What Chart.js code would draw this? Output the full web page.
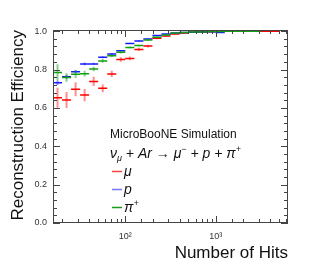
<!DOCTYPE html>
<html>
<head>
<meta charset="utf-8">
<script src="https://cdn.jsdelivr.net/npm/chart.js@4/dist/chart.umd.min.js"></script>
<style>
  html, body { margin: 0; padding: 0; background: #fff; }
</style>
</head>
<body>
<canvas id="eff_chart" width="313" height="272"></canvas>
<script>
// bin edges in number of hits (log-spaced, 0.1 decade)
const binEdges = [15.85, 19.95, 25.12, 31.62, 39.81, 50.12, 63.1, 79.43, 100, 125.9, 158.5, 199.5, 251.2,
  316.2, 398.1, 501.2, 631, 794.3, 1000, 1259, 1585, 1995, 2512, 3162, 3981, 5012, 6310];

const muEff = [0.653, 0.641, 0.697, 0.667, 0.738, 0.702, 0.777, 0.852, 0.858, 0.905, 0.922, 0.963, 0.975,
  0.985, 0.990, 0.994, 0.996, 0.997, 0.998, 0.999, 0.999, 1.0, 1.0, 1.0, 1.0, null];
const muErr = [0.052, 0.042, 0.036, 0.032, 0.024, 0.02, 0.016, 0.012, 0.01, 0.008, 0.007, 0.005, 0.004,
  0.003, 0.003, 0.002, 0.002, 0.002, 0.001, 0.001, 0.001, 0.001, 0.001, 0.001, 0.001, null];

const pEff = [0.731, 0.762, 0.789, 0.829, 0.829, 0.864, 0.881, 0.898, 0.936, 0.949, 0.959, 0.977, 0.985,
  0.990, 0.993, 0.994, 0.996, 0.997, 0.993, 0.999, 1.0, 1.0, 1.0, null, null, null];
const pErr = [0.012, 0.01, 0.008, 0.007, 0.006, 0.005, 0.005, 0.004, 0.003, 0.003, 0.003, 0.002, 0.002,
  0.002, 0.002, 0.001, 0.001, 0.001, 0.002, 0.001, 0.001, 0.001, 0.001, null, null, null];

const piEff = [0.785, 0.758, 0.776, 0.778, 0.803, 0.845, 0.872, 0.890, 0.915, 0.925, 0.954, 0.968, 0.980,
  0.990, 0.993, 0.995, 0.996, 0.998, 0.998, 1.0, 1.0, 1.0, 1.0, null, null, null];
const piErr = [0.042, 0.022, 0.02, 0.015, 0.012, 0.01, 0.008, 0.006, 0.005, 0.004, 0.004, 0.003, 0.003,
  0.002, 0.002, 0.002, 0.001, 0.001, 0.001, 0.001, 0.001, 0.001, 0.001, null, null, null];

const seriesLabels = ["μ", "p", "π⁺"];
const yMajorTicks = [0, 0.2, 0.4, 0.6, 0.8, 1.0];
const xLabelTicks = { 100: "10²", 1000: "10³" };

// horizontal bin-width segments, broken by null points
function hBars(vals) {
  const pts = [];
  vals.forEach((v, i) => {
    if (v == null) return;
    pts.push({ x: binEdges[i], y: v }, { x: binEdges[i + 1], y: v }, { x: binEdges[i + 1], y: null });
  });
  return pts;
}

// vertical error segments at bin centre (log centre)
function vBars(vals, errs) {
  const pts = [];
  vals.forEach((v, i) => {
    if (v == null) return;
    const c = Math.sqrt(binEdges[i] * binEdges[i + 1]);
    pts.push({ x: c, y: v - errs[i] }, { x: c, y: v + errs[i] }, { x: c, y: null });
  });
  return pts;
}

const series = [
  { label: seriesLabels[0], vals: muEff, errs: muErr, color: "#ff0000", bar: "rgba(255,30,30,0.5)", legend: "#ff4040", order: 4 },
  { label: seriesLabels[1], vals: pEff, errs: pErr, color: "#1a1aff", bar: "rgba(30,30,255,0.5)", legend: "#7777ff", order: 2 },
  { label: seriesLabels[2], vals: piEff, errs: piErr, color: "#12a012", bar: "rgba(20,160,20,0.5)", legend: "#1a9a1a", order: 0 },
];

const datasets = [];
series.forEach(s => {
  datasets.push({
    label: s.label, data: vBars(s.vals, s.errs), borderColor: s.bar, borderWidth: 2,
    pointRadius: 0, spanGaps: false, order: s.order + 1, legendColor: s.legend,
  });
  datasets.push({
    label: s.label, data: hBars(s.vals), borderColor: s.color, borderWidth: 1.5,
    pointRadius: 0, spanGaps: false, order: s.order, isMain: true, legendColor: s.legend,
  });
});

const frame = {
  id: "frame",
  afterDatasetsDraw(chart) {
    const { ctx, chartArea: a, scales: { x, y } } = chart;
    ctx.save();
    ctx.strokeStyle = "#444";
    ctx.lineWidth = 1;
    const seg = (x1, y1, x2, y2) => { ctx.beginPath(); ctx.moveTo(x1, y1); ctx.lineTo(x2, y2); ctx.stroke(); };
    ctx.strokeRect(a.left + 0.5, a.top + 0.5, a.right - a.left - 1, a.bottom - a.top - 1);
    y.ticks.forEach(t => {
      const py = Math.round(y.getPixelForValue(t.value)) + 0.5;
      const major = yMajorTicks.some(m => Math.abs(m - t.value) < 1e-6);
      const len = major ? 7 : 4;
      seg(a.left, py, a.left + len, py);
      seg(a.right, py, a.right - len, py);
    });
    x.ticks.forEach(t => {
      const px = Math.round(x.getPixelForValue(t.value)) + 0.5;
      if (px <= a.left + 1 || px >= a.right - 1) return;
      const len = xLabelTicks[t.value] ? 7 : 4;
      seg(px, a.bottom, px, a.bottom - len);
      seg(px, a.top, px, a.top + len);
    });
    ctx.restore();
  },
  afterDraw(chart) {
    const { ctx } = chart;
    ctx.save();
    ctx.fillStyle = "#111";
    ctx.textBaseline = "alphabetic";
    ctx.font = "12px 'Liberation Sans', Arial, sans-serif";
    ctx.fillText("MicroBooNE Simulation", 110, 138);

    // reaction line, drawn in pieces for sub/superscripts
    let cx = 110;
    const base = 158;
    const big = "italic 14px 'Liberation Sans', Arial, sans-serif";
    const small = "italic 9px 'Liberation Sans', Arial, sans-serif";
    const piece = (txt, font, dy) => {
      ctx.font = font;
      ctx.fillText(txt, cx, base + dy);
      cx += ctx.measureText(txt).width;
    };
    piece("ν", big, 0);
    piece("μ", small, 3);
    piece(" + Ar → μ", big, 0);
    piece("−", small, -6);
    piece(" + p + π", big, 0);
    piece("+", small, -6);

    // legend entries
    const mains = chart.data.datasets.filter(d => d.isMain);
    const rows = [176, 194, 212];
    mains.forEach((d, i) => {
      const ly = rows[i];
      ctx.strokeStyle = d.legendColor;
      ctx.lineWidth = 1.5;
      ctx.beginPath(); ctx.moveTo(112, ly - 4.5); ctx.lineTo(122, ly - 4.5); ctx.stroke();
      ctx.fillStyle = "#111";
      const lbl = d.label;
      cx = 124;
      if (lbl.endsWith("⁺")) {
        ctx.font = big; ctx.fillText(lbl.slice(0, -1), cx, ly);
        cx += ctx.measureText(lbl.slice(0, -1)).width;
        ctx.font = small; ctx.fillText("+", cx, ly - 6);
      } else {
        ctx.font = big; ctx.fillText(lbl, cx, ly);
      }
    });
    ctx.restore();
  }
};

new Chart(document.getElementById("eff_chart"), {
  type: "line",
  data: { datasets },
  options: {
    responsive: false,
    animation: false,
    devicePixelRatio: 1,
    layout: { padding: { top: 30, right: 25, left: 0, bottom: 0 } },
    plugins: { legend: { display: false }, tooltip: { enabled: false } },
    elements: { line: { tension: 0 } },
    scales: {
      x: {
        type: "logarithmic",
        min: binEdges[0],
        max: binEdges[binEdges.length - 1],
        grid: { display: false, drawTicks: false },
        border: { display: false },
        afterFit(s) { s.height = 49; },
        ticks: {
          autoSkip: false, maxRotation: 0, padding: 8, color: "#333",
          font: { family: "'Liberation Sans', Arial, sans-serif", size: 9 },
          callback: v => xLabelTicks[v] || "",
        },
        title: {
          display: true, text: "Number of Hits", align: "end", color: "#111",
          font: { family: "'Liberation Sans', Arial, sans-serif", size: 17 },
          padding: { top: 0, bottom: 8 },
        },
      },
      y: {
        min: 0,
        max: 1.006,
        grid: { display: false, drawTicks: false },
        border: { display: false },
        afterFit(s) { s.width = 53; },
        ticks: {
          stepSize: 0.04, includeBounds: false, autoSkip: false, padding: 6, color: "#333",
          font: { family: "'Liberation Sans', Arial, sans-serif", size: 9 },
          callback: v => yMajorTicks.some(m => Math.abs(m - v) < 1e-6) ? v.toFixed(1) : "",
        },
        title: {
          display: true, text: "Reconstruction Efficiency", align: "end", color: "#111",
          font: { family: "'Liberation Sans', Arial, sans-serif", size: 17 },
          padding: { top: 8, bottom: 0 },
        },
      },
    },
  },
  plugins: [frame],
});
</script>
</body>
</html>
